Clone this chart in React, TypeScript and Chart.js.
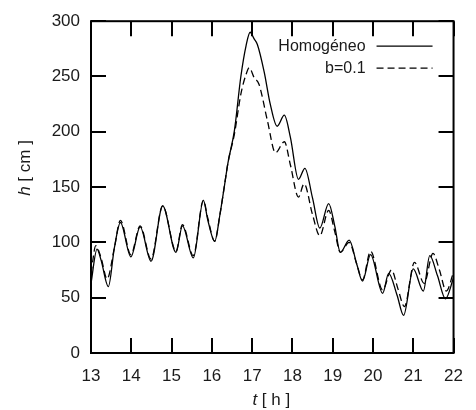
import React, { useEffect, useRef } from "react";
import { Chart, registerables } from "chart.js";

Chart.register(...registerables);

// Time (h) and water height h (cm) for each series
const homogTimes = [
  13.0, 13.15, 13.25, 13.43, 13.58, 13.73, 13.99, 14.22, 14.49, 14.78, 15.11, 15.27,
  15.54, 15.79, 15.9, 16.07, 16.2, 16.32, 16.4, 16.56, 16.72, 16.85, 16.95, 17.05,
  17.13, 17.3, 17.45, 17.62, 17.8, 17.95, 18.15, 18.31, 18.5, 18.68, 18.9, 19.05,
  19.19, 19.41, 19.6, 19.74, 19.94, 20.24, 20.39, 20.6, 20.76, 21.0, 21.25, 21.41,
  21.6, 21.8, 22.0,
];
const homogValues = [
  63, 94, 84, 60, 95, 118, 87, 114, 83, 133, 91, 115,
  86, 138, 120, 101, 125, 153, 172, 201, 250, 278, 290, 284,
  279, 254, 225, 205, 215, 195, 157, 167, 140, 113, 135, 115,
  91, 102, 80, 65, 89, 54, 72, 52, 34, 76, 56, 88,
  70, 49, 68,
];

const b01Times = [
  13.0, 13.12, 13.25, 13.4, 13.58, 13.73, 13.99, 14.22, 14.49, 14.78, 15.11, 15.27,
  15.54, 15.79, 15.9, 16.07, 16.2, 16.32, 16.4, 16.56, 16.72, 16.85, 16.93, 17.05,
  17.17, 17.38, 17.58, 17.8, 17.95, 18.15, 18.29, 18.5, 18.68, 18.9, 19.05,
  19.19, 19.41, 19.6, 19.74, 19.94, 20.24, 20.46, 20.62, 20.78, 21.03, 21.27, 21.49,
  21.65, 21.82, 22.0,
];
const b01Values = [
  72, 97, 86, 67, 95, 120, 89, 115, 85, 133, 92, 116,
  88, 138, 122, 101, 125, 153, 172, 198, 234, 252, 258, 249,
  243, 210, 181, 191, 170, 141, 153, 125, 106, 129, 110,
  91, 100, 80, 66, 92, 57, 75, 58, 42, 82, 63, 90,
  75, 56, 73,
];

const seriesLabels = ["Homogéneo", "b=0.1"];
const xTickMin = 13;
const xTickMax = 22;
const yTickMin = 0;
const yTickMax = 300;
const yTickStep = 50;

const FONT = '"Liberation Sans", Arial, Helvetica, sans-serif';
const TEXT = "#1a1a1a";

const framePlugin = {
  id: "frameTicksLegend",
  afterDraw(chart: any) {
    const { ctx, chartArea, scales } = chart;
    const { left, right, top, bottom } = chartArea;
    const xs = scales.x;
    const ys = scales.y;
    ctx.save();
    ctx.strokeStyle = "#000";
    ctx.lineWidth = 2;
    ctx.strokeRect(left, top, right - left, bottom - top);
    const tl = 15;
    ctx.lineWidth = 2;
    ctx.beginPath();
    xs.ticks.forEach((t: any) => {
      const px = Math.round(xs.getPixelForValue(t.value));
      ctx.moveTo(px, bottom);
      ctx.lineTo(px, bottom - tl);
      ctx.moveTo(px, top);
      ctx.lineTo(px, top + tl);
    });
    ys.ticks.forEach((t: any) => {
      const py = Math.round(ys.getPixelForValue(t.value));
      ctx.moveTo(left, py);
      ctx.lineTo(left + tl, py);
      ctx.moveTo(right, py);
      ctx.lineTo(right - tl, py);
    });
    ctx.stroke();

    // Legend (text on the left, sample on the right)
    ctx.fillStyle = TEXT;
    ctx.font = `16px ${FONT}`;
    ctx.textAlign = "right";
    ctx.textBaseline = "middle";
    const ds = chart.data.datasets;
    ds.forEach((d: any, i: number) => {
      const yy = top + 25 + i * 22;
      ctx.fillText(d.label, right - 88, yy);
      ctx.save();
      ctx.strokeStyle = d.borderColor;
      ctx.lineWidth = d.borderWidth;
      ctx.setLineDash(d.borderDash || []);
      ctx.beginPath();
      ctx.moveTo(right - 77, yy);
      ctx.lineTo(right - 21, yy);
      ctx.stroke();
      ctx.restore();
    });

    // Axis titles with italic variable names
    const drawTitle = (v: string, rest: string) => {
      ctx.font = `italic 17px ${FONT}`;
      const w1 = ctx.measureText(v).width;
      ctx.font = `17px ${FONT}`;
      const w2 = ctx.measureText(rest).width;
      const total = w1 + w2;
      ctx.textAlign = "left";
      ctx.textBaseline = "middle";
      ctx.font = `italic 17px ${FONT}`;
      ctx.fillText(v, -total / 2, 0);
      ctx.font = `17px ${FONT}`;
      ctx.fillText(rest, -total / 2 + w1, 0);
    };
    ctx.fillStyle = TEXT;
    ctx.save();
    ctx.translate((left + right) / 2 - 1, 400);
    drawTitle("t", " [ h ]");
    ctx.restore();
    ctx.save();
    ctx.translate(25, 168);
    ctx.rotate(-Math.PI / 2);
    drawTitle("h", " [ cm ]");
    ctx.restore();
    ctx.restore();
  },
};

export default function App() {
  const canvasRef = useRef<HTMLCanvasElement | null>(null);

  useEffect(() => {
    document.body.style.margin = "0";
    const canvas = canvasRef.current;
    if (!canvas) return;
    const toPts = (ts: number[], vs: number[]) => ts.map((t, i) => ({ x: t, y: vs[i] }));
    const chart = new Chart(canvas, {
      type: "line",
      data: {
        datasets: [
          {
            label: seriesLabels[0],
            data: toPts(homogTimes, homogValues),
            borderColor: "#000",
            borderWidth: 1.3,
            pointRadius: 0,
            cubicInterpolationMode: "monotone",
            fill: false,
          },
          {
            label: seriesLabels[1],
            data: toPts(b01Times, b01Values),
            borderColor: "#000",
            borderWidth: 1.3,
            borderDash: [7, 4],
            pointRadius: 0,
            cubicInterpolationMode: "monotone",
            fill: false,
          },
        ],
      },
      options: {
        animation: false,
        responsive: false,
        devicePixelRatio: 1,
        layout: { padding: { left: 0, right: 17, top: 13, bottom: 0 } },
        plugins: {
          legend: { display: false },
          tooltip: { enabled: false },
        },
        scales: {
          x: {
            type: "linear",
            min: xTickMin,
            max: xTickMax,
            grid: { display: false, drawTicks: false },
            border: { display: false },
            ticks: {
              stepSize: 1,
              padding: 13,
              color: TEXT,
              font: { family: FONT, size: 17 },
            },
            afterFit: (s: any) => {
              s.height = 57;
            },
          },
          y: {
            type: "linear",
            min: yTickMin,
            max: yTickMax,
            grid: { display: false, drawTicks: false },
            border: { display: false },
            ticks: {
              stepSize: yTickStep,
              padding: 11,
              color: TEXT,
              font: { family: FONT, size: 17 },
            },
            afterFit: (s: any) => {
              s.width = 91;
            },
          },
        },
      },
      plugins: [framePlugin],
    } as any);
    return () => chart.destroy();
  }, []);

  return (
    <div style={{ width: 476, height: 410, background: "#fff" }}>
      <canvas ref={canvasRef} width={476} height={410} style={{ display: "block" }} />
    </div>
  );
}
